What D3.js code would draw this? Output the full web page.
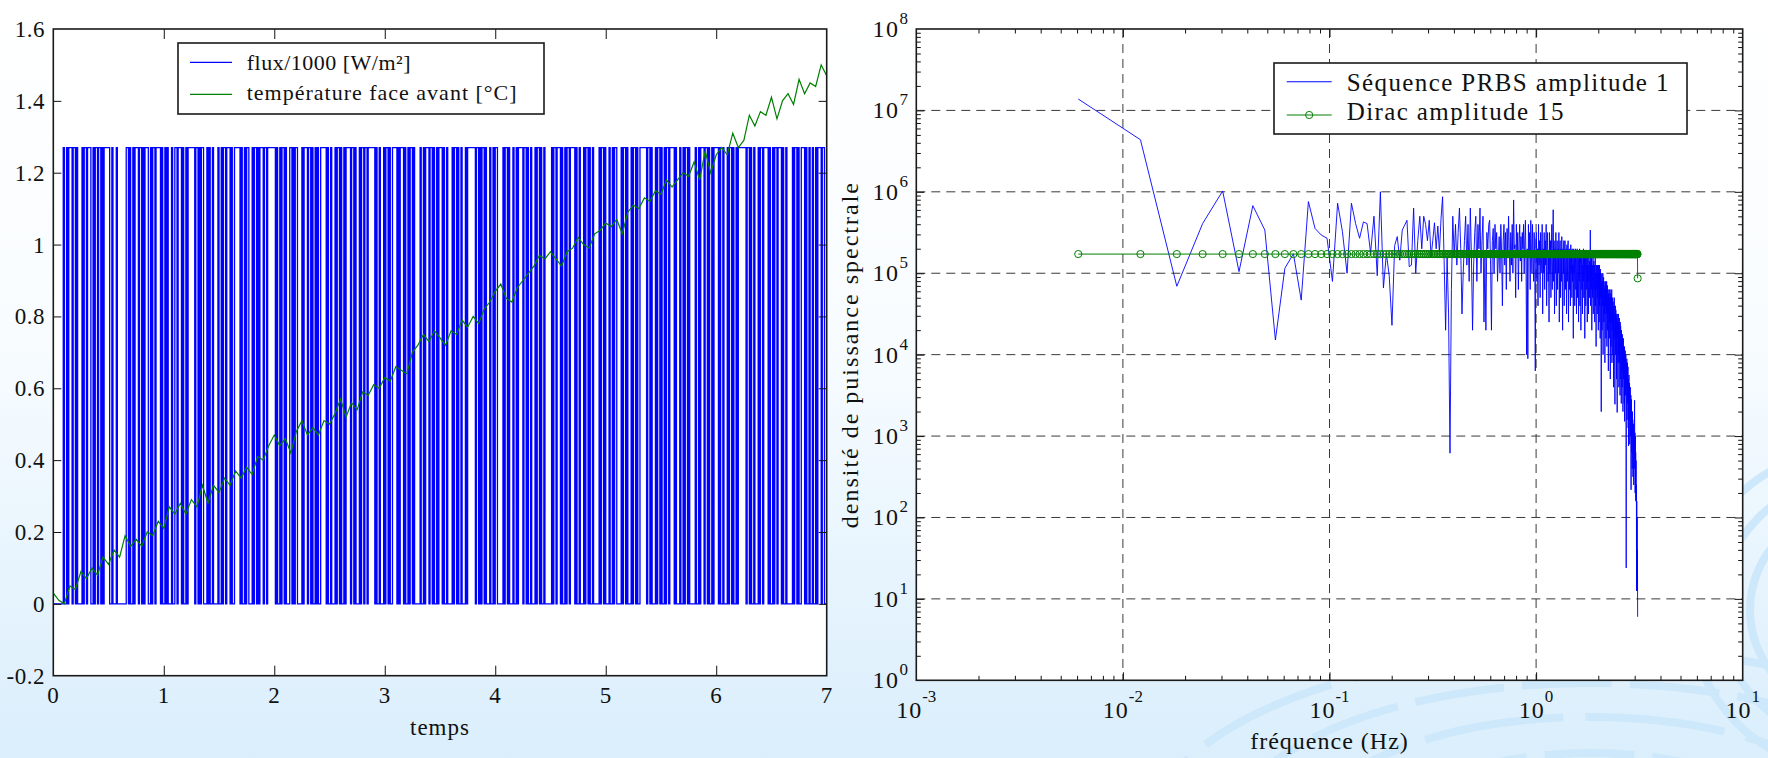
<!DOCTYPE html>
<html><head><meta charset="utf-8">
<script src="https://cdn.jsdelivr.net/npm/d3@7"></script>
<style>
html,body{margin:0;padding:0;background:#fff;}
svg{display:block;}
text{font-family:"Liberation Serif","Times New Roman",serif;fill:#111;}
</style></head><body>
<svg id="c" width="1768" height="758"></svg>
<script>
// ---------------- DATA ----------------
// Left panel
const xTicksLeft = [0,1,2,3,4,5,6,7];
const yTicksLeft = [-0.2,0,0.2,0.4,0.6,0.8,1,1.2,1.4,1.6];
const prbsStart = 0.09, prbsStep = 0.01, prbsHigh = 1.27;
const prbsRuns = [
1,2,1,1,3,1,2,1,1,4, 1,1,2,1,3,2,1,1,2,1,
2,1,1,1,5,2,1,3,1,8, 2,1,1,2,1,1,3,1,2,1,
1,1,3,2,1,1,2,1,4,1, 1,2,1,1,1,3,1,2,2,1,
3,1,1,2,1,1,6,1,2,1, 1,1,2,3,1,1,1,2,1,4,
1,2,1,1,2,1,3,1,1,2, 5,1,1,2,1,1,2,3,1,1,
2,1,1,1,3,1,2,1,7,1, 1,2,1,1,2,1,1,3,2,1,
1,1,2,4,1,1,3,1,2,1, 1,2,1,1,1,2,5,1,1,2,
1,3,1,1,2,1,1,2,1,1, 4,1,2,1,1,3,1,1,2,1,
2,1,6,1,1,2,1,3,1,1, 2,1,1,2,4,1,1,1,3,1,
1,2,1,1,2,1,1,5,1,2, 1,1,3,1,2,1,1,2,1,1,
3,1,1,2,1,4,1,1,2,1, 1,2,1,3,1,1,7,1,2,1,
1,1,2,1,1,3,1,2,1,1, 2,5,1,1,2,1,1,3,1,2,
1,1,4,1,2,1,1,2,1,3, 1,1,2,1,1,2,1,6,1,1,
2,1,3,1,1,2,1,1,2,1, 4,1,1,2,1,3,1,1,2,1,
1,2,1,5,1,1,2,1,1,3, 1,2,1,1,2,4,1,1,2,1,
1,3,1,1,2,1,1,2,6,1, 2,1,1,3,1,1,2,1,1,2,
1,1,2,1,4,1,1,3,1,2, 1,1,2,1,1,5,1,2,1,1,
3,1,2,1,1,2,1,1,4,1, 1,2,1,3,1,1,2,1,1,2,
1,1,7,1,2,1,1,2,1,3, 1,1,2,1,4,1,1,2,1,1,
2,1,3,1,1,2,1,5,1,1, 2,1,1,2,3,1,1,2,1,2,
1,2,1,1,3,1,2,1];
const tempStep = 0.05;
const tempValues = [
0.03,0.01,0.00,0.05,0.04,0.09,0.07,0.10,0.08,0.13,
0.11,0.15,0.13,0.19,0.16,0.18,0.16,0.20,0.19,0.23,
0.21,0.27,0.25,0.28,0.25,0.29,0.27,0.33,0.28,0.33,
0.31,0.35,0.33,0.37,0.35,0.38,0.36,0.41,0.40,0.44,
0.47,0.44,0.46,0.42,0.48,0.51,0.47,0.49,0.47,0.51,
0.50,0.53,0.57,0.52,0.56,0.54,0.59,0.58,0.61,0.60,
0.63,0.62,0.66,0.65,0.64,0.70,0.72,0.75,0.73,0.76,
0.74,0.72,0.76,0.75,0.79,0.77,0.80,0.78,0.82,0.84,
0.87,0.89,0.85,0.84,0.88,0.90,0.92,0.94,0.97,0.96,
0.98,0.96,0.94,0.98,0.99,1.02,1.00,0.99,1.03,1.04,
1.06,1.05,1.07,1.03,1.09,1.11,1.10,1.13,1.12,1.15,
1.14,1.18,1.16,1.18,1.20,1.19,1.23,1.18,1.26,1.20,
1.25,1.27,1.25,1.31,1.27,1.29,1.36,1.33,1.37,1.36,
1.41,1.35,1.40,1.42,1.39,1.46,1.42,1.45,1.44,1.50,
1.47];
const legendLeft = ["flux/1000 [W/m²]", "température face avant [°C]"];

// Right panel
const xDecades = [-3,-2,-1,0,1];
const yDecades = [0,1,2,3,4,5,6,7,8];
const freqStep = 0.00608;
const psdLog = [
7.14,6.64,4.84,5.61,6.01,5.02,5.83,5.53,4.18,5.06,
5.24,4.67,5.88,5.55,5.47,5.43,4.90,5.86,5.51,5.00,
5.86,5.61,5.43,5.63,5.61,5.25,5.70,4.97,6.00,4.82,
5.24,4.97,4.36,5.34,5.45,5.16,5.53,5.59,5.65,5.08,
5.1,5.8,5.0,5.4,5.7,5.3,5.7,5.6,5.4,5.65,
5.2,5.4,5.62,5.3,5.58,5.26,5.67,5.94,5.16,4.3,
5.2,4.5,2.79,4.8,5.7,5.2,5.6,5.1,5.5,5.8,
5.3,4.5,5.0,5.4,5.7,5.1,5.6,4.9,5.8,5.2,
4.3,5.1,5.5,5.7,4.9,5.6,5.3,5.8,5.0,5.4,
5.7,4.4,5.2,4.3,5.5,5.3,5.6,5.65,5.1,4.3,
5.4,5.55,5.0,5.6,5.3,5.5,4.9,5.2,5.45,5.0,
5.6,5.25,4.6,5.4,5.6,5.1,5.5,4.8,5.55,5.2,
5.7,5.3,4.9,5.5,5.1,5.6,5.0,5.9,5.3,5.35,
4.7,5.6,5.2,5.5,4.8,5.35,5.6,5.15,5.45,4.9,
5.5,5.3,5.6,5.0,5.4,5.65,5.1,4.0,5.3,3.95,
5.6,5.2,5.5,4.8,5.65,5.3,5.0,5.6,5.2,4.9,
5.5,5.1,3.8,5.4,
5.5,4.9,5.3,4.6,5.6,5.1,5.4,4.7,5.5,5.0,
5.2,5.6,4.5,5.3,5.0,5.5,4.8,5.4,5.1,5.6,
4.6,5.3,5.5,4.9,5.2,4.4,5.5,5.0,5.4,4.7,
5.3,5.6,4.8,5.2,5.78,4.9,5.4,4.5,5.3,5.0,
5.5,4.6,5.2,5.4,4.8,5.3,5.0,5.5,4.4,5.2,
5.4,4.7,5.3,4.9,5.45,5.1,4.3,5.3,5.0,5.4,
4.6,5.2,5.4,4.8,5.1,5.3,4.5,5.35,4.9,5.2,
5.4,4.4,5.1,5.3,4.8,5.2,4.6,5.35,5.0,5.2,
4.7,5.3,4.9,5.1,4.2,5.3,5.0,5.25,4.6,5.1,
5.3,4.8,5.2,4.5,5.0,5.3,4.7,5.1,5.25,4.4,
5.2,4.9,5.3,4.6,5.1,5.2,4.3,5.0,5.25,4.8,
5.1,4.5,5.2,4.9,5.3,4.7,5.0,5.2,4.2,5.1,
5.25,4.6,5.0,5.2,4.8,5.1,4.4,5.2,4.9,5.1,
4.5,5.2,5.0,4.7,5.15,4.9,5.53,4.6,5.1,4.8,
5.2,4.3,5.0,5.1,4.7,5.2,4.5,5.0,5.15,4.8,
5.1,4.4,4.9,5.2,4.6,5.0,4.1,5.1,4.8,5.0,
4.5,5.1,4.7,5.0,4.3,5.1,
4.9,4.4,5.1,4.6,5.0,4.2,5.05,4.7,4.9,3.3,
4.8,5.0,4.3,4.9,4.6,5.0,4.0,4.8,4.95,4.4,
4.9,4.5,4.8,3.9,4.85,4.6,4.9,4.2,4.8,4.5,
4.9,4.1,4.7,4.85,4.3,4.8,4.6,3.8,4.75,4.5,
4.8,4.2,4.7,4.4,4.8,3.7,4.6,4.75,4.1,4.7,
4.4,4.8,3.9,4.6,4.3,4.7,4.0,4.65,4.5,3.6,
4.6,4.2,4.7,4.4,3.8,3.39,4.5,4.6,4.0,4.55,
4.2,4.5,3.7,4.45,4.1,3.29,4.4,4.2,4.5,3.9,
4.5,4.0,4.4,3.6,4.3,4.45,3.9,4.3,3.5,4.4,
4.1,4.35,3.7,4.2,3.4,4.3,4.0,4.2,3.6,4.25,
3.8,4.2,3.3,4.1,4.2,3.7,4.1,3.9,3.4,4.1,
3.18,4.0,3.8,4.05,3.5,3.9,4.0,3.3,1.38,3.9,
3.6,3.95,3.2,3.8,3.9,3.4,3.7,3.85,3.1,3.7,
2.88,3.6,3.75,3.2,3.5,3.65,2.9,3.5,3.3,3.6,
3.0,3.4,3.5,2.34,3.3,3.45,2.8,3.3,3.2,2.6,
3.3,3.0,3.2,2.5,3.1,2.9,3.15,2.4,2.9,3.0,
2.8,3.2,3.44,2.6,3.04,2.3,3.0,2.35,2.8,2.2,
2.7,2.21,2.4,1.1,2.2,1.2,2.0,1.1,1.6,0.78];
const diracCount = 510, diracLevel = 1.72e5, diracLast = 8.65e4;
const legendRight = ["Séquence PRBS amplitude 1", "Dirac amplitude 15"];

// ---------------- DRAW ----------------
const svg = d3.select("#c");
const defs = svg.append("defs");
const grad = defs.append("linearGradient").attr("id","bg").attr("x1",0).attr("y1",0).attr("x2",0).attr("y2",1);
grad.append("stop").attr("offset","0").attr("stop-color","#ffffff");
grad.append("stop").attr("offset","0.45").attr("stop-color","#f8fcff");
grad.append("stop").attr("offset","1").attr("stop-color","#daeefc");
svg.append("rect").attr("width",1768).attr("height",758).attr("fill","url(#bg)");

// watermark ripples
const wm = svg.append("g").attr("fill","none").attr("stroke","#cde8fa");
[[120,45],[200,82],[280,118],[360,152],[440,186]].forEach(([rx,ry],i)=>{
  wm.append("ellipse").attr("cx",1590).attr("cy",835).attr("rx",rx).attr("ry",ry)
    .attr("stroke-width",8).attr("stroke-dasharray", i%2? "90,18":"140,22");
});
[[40],[70],[100]].forEach(([r])=>{
  wm.append("circle").attr("cx",1850).attr("cy",610).attr("r",r+60).attr("stroke-width",8);
});

// ===== LEFT PANEL =====
const L = {x0:53.3, x1:826.7, y0:29, y1:675.7};
const xL = d3.scaleLinear().domain([0,7]).range([L.x0,L.x1]);
const yL = d3.scaleLinear().domain([-0.2,1.6]).range([L.y1,L.y0]);
svg.append("rect").attr("x",L.x0).attr("y",L.y0).attr("width",L.x1-L.x0).attr("height",L.y1-L.y0).attr("fill","#fff");
defs.append("clipPath").attr("id","clipL").append("rect").attr("x",L.x0).attr("y",L.y0).attr("width",L.x1-L.x0).attr("height",L.y1-L.y0);

const prbsPts = [[0,0]];
let tt = prbsStart, lvl = prbsHigh;
prbsRuns.forEach(r=>{ if (tt < 7) prbsPts.push([tt,lvl]); tt += r*prbsStep; lvl = lvl ? 0 : prbsHigh; });
prbsPts.push([7, prbsPts[prbsPts.length-1][1]]);
const gLd = svg.append("g").attr("clip-path","url(#clipL)");
gLd.append("path").datum(prbsPts)
  .attr("d", d3.line().x(d=>xL(d[0])).y(d=>yL(d[1])).curve(d3.curveStepAfter))
  .attr("fill","none").attr("stroke","#0000ff").attr("stroke-width",1.3);
gLd.append("path").datum(tempValues.map((v,i)=>[i*tempStep,v]))
  .attr("d", d3.line().x(d=>xL(d[0])).y(d=>yL(d[1])))
  .attr("fill","none").attr("stroke","#008000").attr("stroke-width",1.2);

function cleanAxis(g){ g.select(".domain").remove(); g.selectAll(".tick line").attr("stroke","#111").attr("stroke-width",1); g.selectAll(".tick text").remove(); }
const innerX = xTicksLeft.slice(1,-1), innerY = yTicksLeft.slice(1,-1);
svg.append("g").attr("transform",`translate(0,${L.y1})`).call(d3.axisBottom(xL).tickValues(innerX).tickSize(-10)).call(cleanAxis);
svg.append("g").attr("transform",`translate(0,${L.y0})`).call(d3.axisTop(xL).tickValues(innerX).tickSize(-10)).call(cleanAxis);
svg.append("g").attr("transform",`translate(${L.x0},0)`).call(d3.axisLeft(yL).tickValues(innerY).tickSize(-8)).call(cleanAxis);
svg.append("g").attr("transform",`translate(${L.x1},0)`).call(d3.axisRight(yL).tickValues(innerY).tickSize(-8)).call(cleanAxis);
svg.append("rect").attr("x",L.x0).attr("y",L.y0).attr("width",L.x1-L.x0).attr("height",L.y1-L.y0)
  .attr("fill","none").attr("stroke","#1a1a1a").attr("stroke-width",1.6);

const fmt = v => String(+v.toFixed(1));
svg.append("g").selectAll("text").data(xTicksLeft).join("text")
  .attr("x",d=>xL(d)).attr("y",703).attr("text-anchor","middle")
  .style("font-size","23px").style("letter-spacing","0.5px").text(fmt);
svg.append("g").selectAll("text").data(yTicksLeft).join("text")
  .attr("x",45).attr("y",d=>yL(d)+8).attr("text-anchor","end")
  .style("font-size","23px").style("letter-spacing","0.5px").text(fmt);
svg.append("text").attr("x",(L.x0+L.x1)/2).attr("y",735).attr("text-anchor","middle")
  .style("font-size","23px").style("letter-spacing","1px").text("temps");

// left legend
const lgL = svg.append("g");
lgL.append("rect").attr("x",178).attr("y",43).attr("width",366).attr("height",71)
  .attr("fill","#fff").attr("stroke","#1a1a1a").attr("stroke-width",1.6);
const lgLcol = ["#0000ff","#008000"];
legendLeft.forEach((s,i)=>{
  const yy = 62.3 + i*32;
  lgL.append("line").attr("x1",190).attr("x2",232).attr("y1",yy).attr("y2",yy).attr("stroke",lgLcol[i]).attr("stroke-width",1.2);
  lgL.append("text").attr("x",246.7).attr("y",70+i*30).style("font-size","22px").style("letter-spacing",i?"1px":"0.5px").text(s);
});

// ===== RIGHT PANEL =====
const R = {x0:916.3, x1:1742.7, y0:29, y1:680.3};
const xR = d3.scaleLog().domain([1e-3,10]).range([R.x0,R.x1]);
const yR = d3.scaleLog().domain([1,1e8]).range([R.y1,R.y0]);
svg.append("rect").attr("x",R.x0).attr("y",R.y0).attr("width",R.x1-R.x0).attr("height",R.y1-R.y0).attr("fill","#fff");
defs.append("clipPath").attr("id","clipR").append("rect").attr("x",R.x0).attr("y",R.y0).attr("width",R.x1-R.x0).attr("height",R.y1-R.y0);

const xMaj = xDecades.map(d=>Math.pow(10,d)), yMaj = yDecades.map(d=>Math.pow(10,d));
const xMin = [], yMin = [];
xDecades.slice(0,-1).forEach(d=>{ for(let m=2;m<=9;m++) xMin.push(m*Math.pow(10,d)); });
yDecades.slice(0,-1).forEach(d=>{ for(let m=2;m<=9;m++) yMin.push(m*Math.pow(10,d)); });

// grid
const grid = svg.append("g").attr("stroke","#3a3a3a").attr("stroke-width",1).attr("stroke-dasharray","9,6");
xMaj.slice(1,-1).forEach(v=>grid.append("line").attr("x1",xR(v)).attr("x2",xR(v)).attr("y1",R.y0).attr("y2",R.y1));
yMaj.slice(1,-1).forEach(v=>grid.append("line").attr("y1",yR(v)).attr("y2",yR(v)).attr("x1",R.x0).attr("x2",R.x1));

const gRd = svg.append("g").attr("clip-path","url(#clipR)");
const psdPts = psdLog.map((v,i)=>[(i+1)*freqStep, Math.pow(10,v)]);
gRd.append("path").datum(psdPts)
  .attr("d", d3.line().x(d=>xR(d[0])).y(d=>yR(d[1])))
  .attr("fill","none").attr("stroke","#0000ff").attr("stroke-width",0.9);
const diracPts = d3.range(1,diracCount+1).map(k=>[k*freqStep, k===diracCount?diracLast:diracLevel]);
gRd.append("path").datum(diracPts)
  .attr("d", d3.line().x(d=>xR(d[0])).y(d=>yR(d[1])))
  .attr("fill","none").attr("stroke","#008000").attr("stroke-width",1);
gRd.append("g").selectAll("circle").data(diracPts).join("circle")
  .attr("cx",d=>xR(d[0])).attr("cy",d=>yR(d[1])).attr("r",3.6)
  .attr("fill","none").attr("stroke","#008000").attr("stroke-width",1);

// ticks
function ticksR(axisFn, scale, vals, size, tr){
  svg.append("g").attr("transform",tr).call(axisFn(scale).tickValues(vals).tickSize(size)).call(cleanAxis);
}
ticksR(d3.axisBottom, xR, xMaj.slice(1,-1), -8, `translate(0,${R.y1})`);
ticksR(d3.axisBottom, xR, xMin, -4.5, `translate(0,${R.y1})`);
ticksR(d3.axisTop, xR, xMaj.slice(1,-1), -8, `translate(0,${R.y0})`);
ticksR(d3.axisTop, xR, xMin, -4.5, `translate(0,${R.y0})`);
ticksR(d3.axisLeft, yR, yMaj.slice(1,-1), -8, `translate(${R.x0},0)`);
ticksR(d3.axisLeft, yR, yMin, -4.5, `translate(${R.x0},0)`);
ticksR(d3.axisRight, yR, yMaj.slice(1,-1), -8, `translate(${R.x1},0)`);
ticksR(d3.axisRight, yR, yMin, -4.5, `translate(${R.x1},0)`);
svg.append("rect").attr("x",R.x0).attr("y",R.y0).attr("width",R.x1-R.x0).attr("height",R.y1-R.y0)
  .attr("fill","none").attr("stroke","#1a1a1a").attr("stroke-width",1.6);

// log labels
xDecades.forEach(d=>{
  const t = svg.append("text").attr("x",xR(Math.pow(10,d))).attr("y",718).attr("text-anchor","middle")
    .style("font-size","24px").style("letter-spacing","1px");
  t.append("tspan").text("10");
  t.append("tspan").attr("dy",-16).style("font-size","17px").style("letter-spacing","0px").text(String(d));
});
yDecades.forEach(d=>{
  const t = svg.append("text").attr("x",908).attr("y",yR(Math.pow(10,d))+8).attr("text-anchor","end")
    .style("font-size","24px").style("letter-spacing","1.5px");
  t.append("tspan").text("10");
  t.append("tspan").attr("dy",-13).style("font-size","17px").style("letter-spacing","0px").text(String(d));
});
svg.append("text").attr("x",(R.x0+R.x1)/2).attr("y",749).attr("text-anchor","middle")
  .style("font-size","24px").style("letter-spacing","1px").text("fréquence (Hz)");
svg.append("text").attr("transform",`translate(858,${(R.y0+R.y1)/2}) rotate(-90)`).attr("text-anchor","middle")
  .style("font-size","24px").style("letter-spacing","2px").text("densité de puissance spectrale");

// right legend
const lgR = svg.append("g");
lgR.append("rect").attr("x",1274).attr("y",63).attr("width",413).attr("height",71)
  .attr("fill","#fff").attr("stroke","#1a1a1a").attr("stroke-width",1.6);
legendRight.forEach((s,i)=>{
  const yy = i ? 115 : 81.7;
  lgR.append("line").attr("x1",1286.7).attr("x2",1331.7).attr("y1",yy).attr("y2",yy)
    .attr("stroke",i?"#008000":"#0000ff").attr("stroke-width",1.1);
  if (i) lgR.append("circle").attr("cx",1309.2).attr("cy",yy).attr("r",3.6).attr("fill","none").attr("stroke","#008000").attr("stroke-width",1);
  lgR.append("text").attr("x",1346.7).attr("y",i?120:90.7).style("font-size","25px").style("letter-spacing","1.4px").text(s);
});
</script>
</body></html>
